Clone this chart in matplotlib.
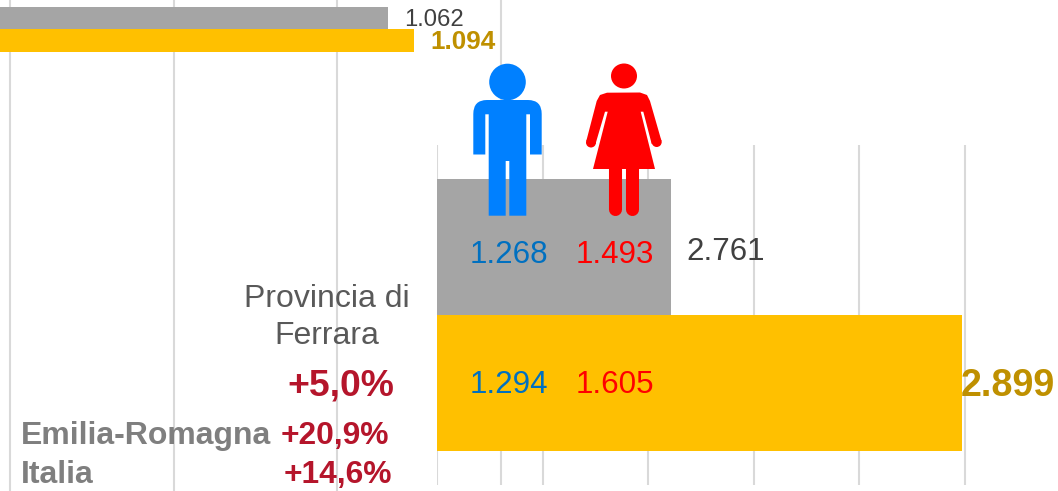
import matplotlib
matplotlib.use('Agg')
import matplotlib.pyplot as plt
from matplotlib.patches import Circle, Ellipse, Polygon, PathPatch
from matplotlib.path import Path

plt.rcParams['font.family'] = ['Liberation Sans', 'DejaVu Sans']

W, H = 1058, 491

# data
years = ['2011', '2021']
colors = ['#A5A5A5', '#FFC000']
top_values = [1062, 1094]
top_labels = ['1.062', '1.094']
top_ticks = [600, 800, 1000, 1200]
main_values = [2761, 2899]
main_labels = ['2.761', '2.899']
main_ticks = [2650, 2700, 2750, 2800, 2850, 2900]
male_labels = ['1.268', '1.294']
female_labels = ['1.493', '1.605']
grid_color = '#D9D9D9'
gold = '#BF9000'
dark = '#404040'
red = '#B5152B'
man_color = '#0080FF'
woman_color = '#FF0000'


def make_axes(x0, y0, x1, y1):
    return fig.add_axes([x0 / W, 1 - y1 / H, (x1 - x0) / W, (y1 - y0) / H])


def clean(ax):
    for s in ax.spines.values():
        s.set_visible(False)
    ax.set_yticks([])
    ax.tick_params(length=0, labelbottom=False)
    ax.set_facecolor('none')
    ax.grid(True, axis='x', color=grid_color, lw=1.5)
    ax.set_axisbelow(True)


fig = plt.figure(figsize=(W / 100, H / 100), dpi=100, facecolor='white')

# small chart at the top, gridlines run down the whole picture
ax_top = make_axes(0, 0, 520, 485)
ax_top.set_xlim(600 - 10 / 0.818, 600 + 510 / 0.818)
ax_top.set_ylim(485 / 22.4 - 0.8125, -0.8125)
ax_top.barh([0, 1], top_values, height=1, color=colors, left=0)
ax_top.set_xticks(top_ticks)
clean(ax_top)
ax_top.annotate(top_labels[0], (top_values[0], 0), xytext=(12, -1.5), textcoords='offset points',
                fontsize=17.2, color=dark, va='center')
ax_top.annotate(top_labels[1], (top_values[1], 1), xytext=(12, -1), textcoords='offset points',
                fontsize=18.8, color=gold, va='center', fontweight='bold')

# the lines of the first chart continue down to the picture edge
ax_bg = make_axes(0, 485, 520, 491)
ax_bg.set_xlim(ax_top.get_xlim())
ax_bg.set_ylim(0, 1)
ax_bg.vlines(top_ticks[:-1], 0, 1, color=grid_color, lw=1.5)
ax_bg.axis('off')

# main chart
ax = make_axes(437, 145, 1058, 485)
ax.set_xlim(2650, 2650 + 621 / 2.11)
ax.set_ylim(1.75, -0.75)
ax.barh([0, 1], main_values, height=1, color=colors)
ax.set_xticks(main_ticks)
clean(ax)
ax.annotate(main_labels[0], (main_values[0], 0), xytext=(11, -3.5), textcoords='offset points',
            fontsize=22.5, color=dark, va='center')
ax.annotate(main_labels[1], (main_values[1], 1), xytext=(-1, -2), textcoords='offset points',
            fontsize=27.2, color=gold, va='center', fontweight='bold')

# overlay in picture pixels for icons and free text
ov = fig.add_axes([0, 0, 1, 1], facecolor='none')
ov.set_xlim(0, W)
ov.set_ylim(H, 0)
ov.axis('off')

for lab_m, lab_f, y in zip(male_labels, female_labels, [255, 385]):
    ov.text(509, y, lab_m, color='#0070C0', fontsize=22.6, ha='center', va='center')
    ov.text(615, y, lab_f, color='#FF0000', fontsize=22.6, ha='center', va='center')

ov.text(327, 299, 'Provincia di', color='#595959', fontsize=23, ha='center', va='center')
ov.text(327, 336, 'Ferrara', color='#595959', fontsize=23, ha='center', va='center')
ov.text(394, 386, '+5,0%', color=red, fontsize=26.9, ha='right', va='center', fontweight='bold')
ov.text(21, 436, 'Emilia-Romagna', color='#7F7F7F', fontsize=23, va='center', fontweight='bold')
ov.text(21, 475, 'Italia', color='#7F7F7F', fontsize=23, va='center', fontweight='bold')
ov.text(389, 436, '+20,9%', color=red, fontsize=22.9, ha='right', va='center', fontweight='bold')
ov.text(392, 475, '+14,6%', color=red, fontsize=22.9, ha='right', va='center', fontweight='bold')

# man
ov.add_patch(Circle((507.5, 82), 18.3, color=man_color, lw=0))
man_pts = [(473.3, 154.5), (473.3, 114), (473.3, 100), (487, 100), (528, 100), (541.7, 100), (541.7, 114),
           (541.7, 154.5), (530, 154.5), (530, 114.3), (526.3, 114.3), (526.3, 215.7), (509.3, 215.7),
           (509.3, 161), (505.7, 161), (505.7, 215.7), (488.7, 215.7), (488.7, 114.3), (485.3, 114.3),
           (485.3, 154.5), (473.3, 154.5)]
man_codes = [Path.MOVETO, Path.LINETO, Path.CURVE3, Path.CURVE3, Path.LINETO, Path.CURVE3, Path.CURVE3] + \
            [Path.LINETO] * 13 + [Path.CLOSEPOLY]
man_codes = man_codes[:len(man_pts)]
ov.add_patch(PathPatch(Path(man_pts, man_codes), color=man_color, lw=0))

# woman
ov.add_patch(Ellipse((624, 76), 26, 25, color=woman_color, lw=0))
ov.add_patch(Polygon([(596.7, 101), (586.3, 141), (595.5, 144), (605, 111.7), (607.7, 111.7), (593, 169),
                      (655, 169), (640.7, 111.7), (643.3, 111.7), (651.7, 144), (661.5, 141), (650, 101),
                      (647, 95), (640, 92.5), (607, 92.7), (600, 95)], closed=True, color=woman_color, lw=0))
ov.add_patch(Circle((591, 142.5), 5, color=woman_color, lw=0))
ov.add_patch(Circle((656.7, 142), 5, color=woman_color, lw=0))
ov.plot([615.2, 615.2], [165, 209.2], color=woman_color, lw=9.4, solid_capstyle='round')
ov.plot([632.2, 632.2], [165, 209.2], color=woman_color, lw=9.4, solid_capstyle='round')

fig.savefig('out.png', dpi=100, facecolor='white')
